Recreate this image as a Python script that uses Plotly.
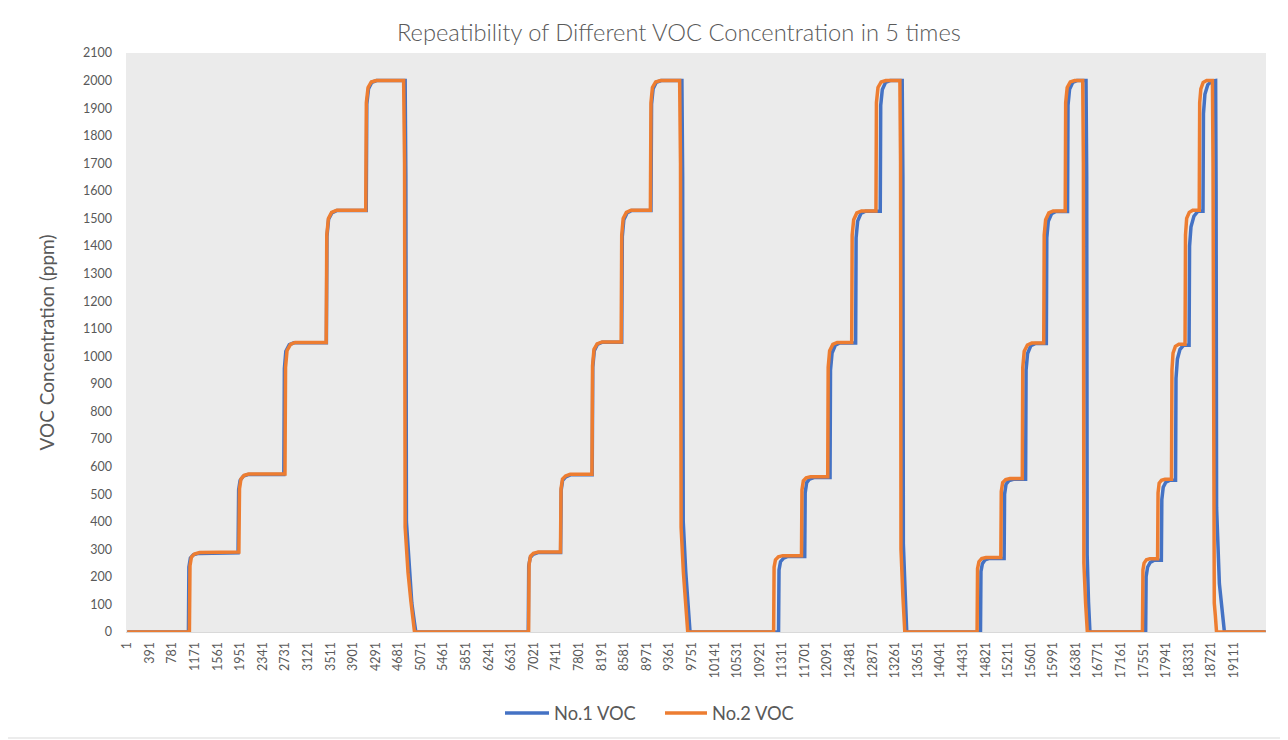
import plotly.graph_objects as go

# ---------------- data ----------------
# x = sample index (category), y = VOC concentration (ppm)
# No.1 VOC (blue)
voc1_c1_x = [1, 1058, 1066, 1092, 1142, 1232, 1915, 1925, 1950, 2005, 2085, 2705, 2715, 2740, 2800, 2880, 3440, 3450, 3478, 3535, 3625, 4128, 4138, 4168, 4225, 4310, 4800, 4812, 4822, 4870, 4915, 4960, 4985]
voc1_c1_y = [0, 0, 235, 268, 280, 285, 287, 515, 550, 565, 571, 571, 955, 1018, 1042, 1049, 1049, 1435, 1497, 1520, 1529, 1529, 1915, 1970, 1994, 2000, 2000, 1650, 400, 220, 105, 35, 0]
voc1_c2_x = [6926, 6934, 6960, 7010, 7095, 7485, 7495, 7520, 7575, 7655, 8030, 8040, 8066, 8120, 8205, 8540, 8550, 8576, 8632, 8712, 9045, 9055, 9082, 9138, 9222, 9579, 9592, 9602, 9645, 9680, 9705, 9720]
voc1_c2_y = [0, 240, 270, 282, 288, 288, 515, 550, 563, 570, 570, 960, 1020, 1043, 1051, 1051, 1435, 1495, 1520, 1529, 1529, 1915, 1970, 1994, 2000, 2000, 1650, 400, 220, 105, 35, 0]
voc1_c3_x = [11248, 11256, 11282, 11335, 11410, 11700, 11708, 11734, 11785, 11860, 12137, 12145, 12172, 12228, 12305, 12579, 12587, 12614, 12670, 12750, 13004, 13012, 13040, 13095, 13175, 13383, 13395, 13403, 13435, 13462]
voc1_c3_y = [0, 225, 255, 268, 274, 274, 505, 542, 555, 560, 560, 950, 1012, 1040, 1048, 1048, 1430, 1490, 1518, 1526, 1526, 1910, 1968, 1993, 2000, 2000, 1650, 320, 140, 0]
voc1_c4_x = [14735, 14743, 14768, 14815, 14890, 15143, 15151, 15176, 15228, 15303, 15514, 15522, 15548, 15603, 15678, 15872, 15880, 15906, 15962, 16038, 16238, 16246, 16273, 16327, 16400, 16557, 16569, 16577, 16600, 16625]
voc1_c4_y = [0, 220, 248, 262, 267, 267, 500, 536, 549, 554, 554, 950, 1010, 1038, 1046, 1046, 1430, 1490, 1517, 1525, 1525, 1910, 1968, 1993, 2000, 2000, 1650, 280, 110, 0]
voc1_c5_x = [17587, 17595, 17620, 17665, 17735, 17858, 17866, 17890, 17935, 18000, 18103, 18111, 18135, 18180, 18240, 18337, 18345, 18370, 18420, 18490, 18577, 18585, 18610, 18660, 18730, 18795, 18803, 18812, 18860, 18900, 18947, 19660]
voc1_c5_y = [0, 200, 235, 252, 260, 260, 480, 525, 543, 550, 550, 920, 990, 1025, 1040, 1040, 1400, 1470, 1508, 1526, 1526, 1880, 1950, 1985, 1998, 2000, 1600, 450, 175, 105, 0, 0]

# No.2 VOC (orange)
voc2_c1_x = [1, 1075, 1085, 1110, 1160, 1250, 1929, 1940, 1965, 2020, 2100, 2725, 2735, 2760, 2820, 2900, 3437, 3447, 3475, 3530, 3620, 4120, 4130, 4160, 4215, 4300, 4774, 4790, 4800, 4850, 4900, 4940, 4962]
voc2_c1_y = [0, 0, 240, 272, 283, 288, 290, 520, 555, 568, 573, 573, 960, 1020, 1043, 1050, 1050, 1440, 1500, 1522, 1530, 1530, 1920, 1975, 1995, 2000, 2000, 1700, 380, 215, 110, 40, 0]
voc2_c2_x = [6932, 6940, 6965, 7015, 7100, 7482, 7492, 7517, 7570, 7650, 8026, 8036, 8061, 8115, 8200, 8530, 8540, 8565, 8620, 8700, 9035, 9045, 9070, 9125, 9210, 9540, 9555, 9565, 9605, 9640, 9665, 9680]
voc2_c2_y = [0, 245, 275, 285, 290, 290, 520, 555, 566, 572, 572, 965, 1025, 1045, 1052, 1052, 1440, 1500, 1522, 1530, 1530, 1920, 1975, 1995, 2000, 2000, 1700, 380, 215, 110, 40, 0]
voc2_c3_x = [11163, 11171, 11195, 11245, 11320, 11644, 11652, 11676, 11725, 11800, 12097, 12105, 12130, 12185, 12260, 12511, 12519, 12545, 12600, 12680, 12930, 12938, 12965, 13020, 13100, 13343, 13355, 13362, 13395, 13428]
voc2_c3_y = [0, 235, 262, 273, 277, 277, 515, 548, 559, 563, 563, 960, 1020, 1043, 1050, 1050, 1440, 1495, 1520, 1527, 1527, 1920, 1975, 1995, 2000, 2000, 1700, 300, 130, 0]
voc2_c4_x = [14676, 14684, 14708, 14755, 14830, 15086, 15094, 15118, 15170, 15245, 15457, 15465, 15490, 15545, 15620, 15827, 15835, 15860, 15915, 15990, 16198, 16206, 16232, 16285, 16360, 16500, 16512, 16520, 16550, 16580]
voc2_c4_y = [0, 230, 255, 266, 270, 270, 510, 542, 553, 557, 557, 960, 1018, 1041, 1048, 1048, 1440, 1495, 1520, 1527, 1527, 1920, 1975, 1995, 2000, 2000, 1700, 250, 105, 0]
voc2_c5_x = [17532, 17540, 17560, 17600, 17660, 17793, 17801, 17820, 17860, 17920, 18033, 18041, 18060, 18100, 18160, 18267, 18275, 18295, 18340, 18400, 18512, 18520, 18540, 18580, 18640, 18740, 18750, 18772, 18790, 18811, 19660]
voc2_c5_y = [0, 225, 250, 262, 266, 266, 505, 540, 550, 554, 554, 950, 1012, 1036, 1044, 1044, 1440, 1500, 1522, 1530, 1530, 1920, 1970, 1993, 2000, 2000, 1700, 105, 60, 0, 0]

series_names = ["No.1 VOC", "No.2 VOC"]
series_colors = ["#4472C4", "#ED7D31"]

x_tick_values = [1, 391, 781, 1171, 1561, 1951, 2341, 2731, 3121, 3511, 3901, 4291, 4681,
                 5071, 5461, 5851, 6241, 6631, 7021, 7411, 7801, 8191, 8581, 8971, 9361,
                 9751, 10141, 10531, 10921, 11311, 11701, 12091, 12481, 12871, 13261, 13651,
                 14041, 14431, 14821, 15211, 15601, 15991, 16381, 16771, 17161, 17551, 17941,
                 18331, 18721, 19111]
x_tick_labels = [str(v) for v in x_tick_values]
y_tick_values = list(range(0, 2101, 100))

title_text = "Repeatibility of Different VOC Concentration in 5 times"
y_title = "VOC Concentration (ppm)"

# ---------------- build figure ----------------
voc1_x = voc1_c1_x + voc1_c2_x + voc1_c3_x + voc1_c4_x + voc1_c5_x
voc1_y = voc1_c1_y + voc1_c2_y + voc1_c3_y + voc1_c4_y + voc1_c5_y
voc2_x = voc2_c1_x + voc2_c2_x + voc2_c3_x + voc2_c4_x + voc2_c5_x
voc2_y = voc2_c1_y + voc2_c2_y + voc2_c3_y + voc2_c4_y + voc2_c5_y

LINE_W = 3.5
fig = go.Figure()
fig.add_trace(go.Scatter(x=voc1_x, y=voc1_y, mode="lines", name=series_names[0],
                         line=dict(color=series_colors[0], width=LINE_W), showlegend=False))
fig.add_trace(go.Scatter(x=voc2_x, y=voc2_y, mode="lines", name=series_names[1],
                         line=dict(color=series_colors[1], width=LINE_W), showlegend=False))

font_family = "Lato, 'Open Sans', sans-serif"
grey = "#595959"

# the page body has an 8px margin, so the figure is 8px smaller and margins shifted
W, H = 1280, 732
ML, MR, MT, MB = 118, 22, 45, 108
PW, PH = W - ML - MR, H - MT - MB


def px_x(fx):
    return (fx - ML) / PW


def px_y(fy):
    return (H - MB - fy) / PH


fig.update_layout(
    width=W, height=H,
    margin=dict(l=ML, r=MR, t=MT, b=MB),
    paper_bgcolor="white",
    plot_bgcolor="#EBEBEB",
    font=dict(family=font_family, color=grey, size=12),
    title=dict(text=title_text, x=0.485, xref="paper", xanchor="center",
               y=1 - 25 / H, yanchor="middle",
               font=dict(family=font_family, size=23.7, color=grey, weight=300)),
    showlegend=False,
)

fig.update_xaxes(
    range=[-20, 19665],
    tickmode="array", tickvals=x_tick_values, ticktext=x_tick_labels,
    tickangle=-90, tickfont=dict(size=12.5, color=grey),
    showgrid=False, zeroline=False,
    showline=True, linecolor="#D9D9D9", linewidth=1,
    ticks="", ticklabelstandoff=4,
)
fig.update_yaxes(
    range=[0, 2100],
    tickmode="array", tickvals=y_tick_values,
    tickfont=dict(size=12.5, color=grey),
    showgrid=False, zeroline=False, showline=False,
    ticks="", ticklabelstandoff=13,
    title=dict(text=y_title, font=dict(size=19, color=grey), standoff=23),
)

# legend drawn at the bottom (line sample + label for each series)
legend_line_x = [(497, 541), (657, 699)]
legend_y = 705
for (lx0, lx1), name, color in zip(legend_line_x, series_names, series_colors):
    fig.add_shape(type="line", xref="paper", yref="paper",
                  x0=px_x(lx0), x1=px_x(lx1), y0=px_y(legend_y), y1=px_y(legend_y),
                  line=dict(color=color, width=LINE_W))
    fig.add_annotation(text=name, xref="paper", yref="paper",
                       x=px_x(lx1 + 3), y=px_y(legend_y), xanchor="left", yanchor="middle",
                       showarrow=False, font=dict(size=18.3, color=grey, family=font_family))

# chart-area border (right and bottom edges visible inside the page)
fig.add_shape(type="line", xref="paper", yref="paper",
              x0=px_x(1276), x1=px_x(1276), y0=px_y(730), y1=px_y(-8),
              line=dict(color="#D9D9D9", width=1))
fig.add_shape(type="line", xref="paper", yref="paper",
              x0=px_x(0), x1=px_x(1276), y0=px_y(730), y1=px_y(730),
              line=dict(color="#D9D9D9", width=1))

fig.write_html("out.html")
